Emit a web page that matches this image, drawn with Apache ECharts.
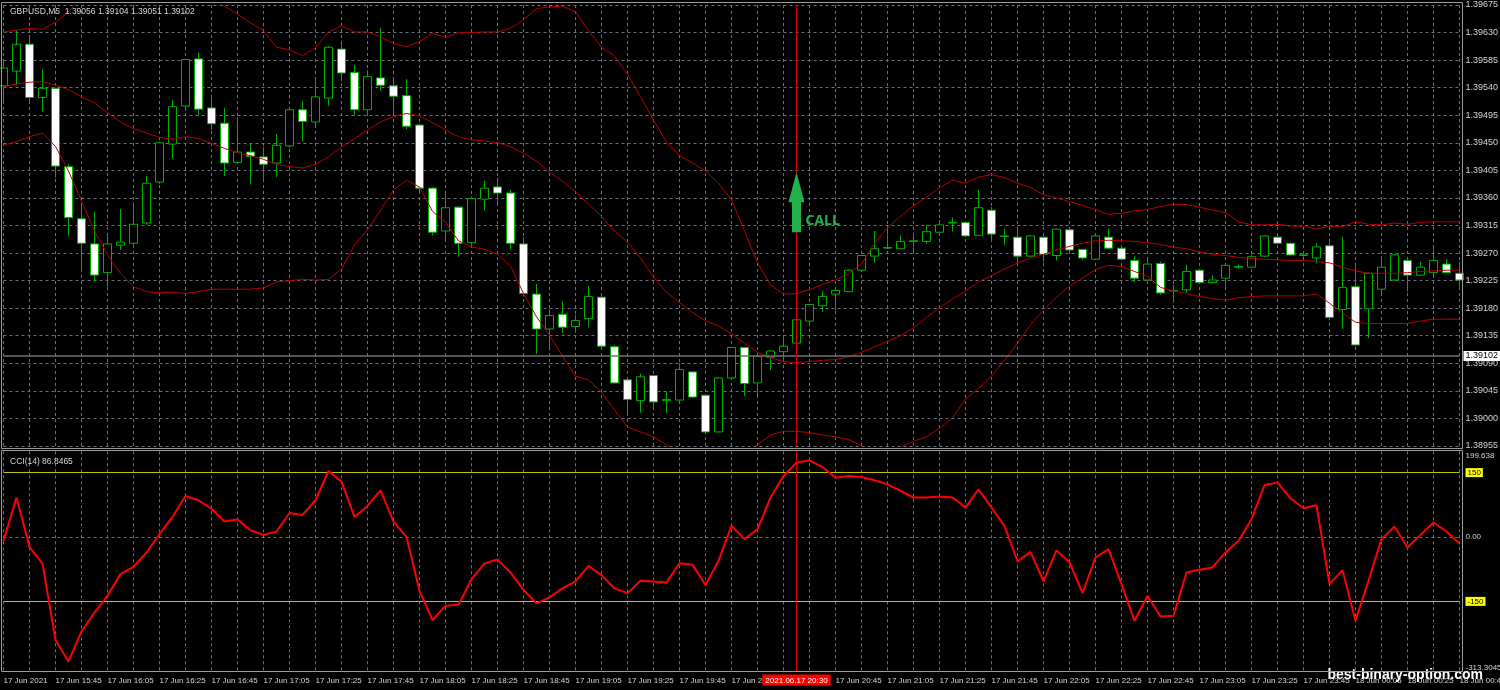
<!DOCTYPE html>
<html>
<head>
<meta charset="utf-8">
<script src="https://cdn.jsdelivr.net/npm/echarts@6/dist/echarts.min.js"></script>
<style>
html,body{margin:0;padding:0;background:#000;}
#chart{width:1500px;height:690px;}
</style>
</head>
<body>
<div id="chart"></div>
<script>
// ---------- DATA ----------
const categories = [
'2021.06.17 15:25','2021.06.17 15:30','2021.06.17 15:35','2021.06.17 15:40','2021.06.17 15:45','2021.06.17 15:50','2021.06.17 15:55',
'2021.06.17 16:00','2021.06.17 16:05','2021.06.17 16:10','2021.06.17 16:15','2021.06.17 16:20','2021.06.17 16:25','2021.06.17 16:30','2021.06.17 16:35','2021.06.17 16:40','2021.06.17 16:45','2021.06.17 16:50','2021.06.17 16:55',
'2021.06.17 17:00','2021.06.17 17:05','2021.06.17 17:10','2021.06.17 17:15','2021.06.17 17:20','2021.06.17 17:25','2021.06.17 17:30','2021.06.17 17:35','2021.06.17 17:40','2021.06.17 17:45','2021.06.17 17:50','2021.06.17 17:55',
'2021.06.17 18:00','2021.06.17 18:05','2021.06.17 18:10','2021.06.17 18:15','2021.06.17 18:20','2021.06.17 18:25','2021.06.17 18:30','2021.06.17 18:35','2021.06.17 18:40','2021.06.17 18:45','2021.06.17 18:50','2021.06.17 18:55',
'2021.06.17 19:00','2021.06.17 19:05','2021.06.17 19:10','2021.06.17 19:15','2021.06.17 19:20','2021.06.17 19:25','2021.06.17 19:30','2021.06.17 19:35','2021.06.17 19:40','2021.06.17 19:45','2021.06.17 19:50','2021.06.17 19:55',
'2021.06.17 20:00','2021.06.17 20:05','2021.06.17 20:10','2021.06.17 20:15','2021.06.17 20:20','2021.06.17 20:25','2021.06.17 20:30','2021.06.17 20:35','2021.06.17 20:40','2021.06.17 20:45','2021.06.17 20:50','2021.06.17 20:55',
'2021.06.17 21:00','2021.06.17 21:05','2021.06.17 21:10','2021.06.17 21:15','2021.06.17 21:20','2021.06.17 21:25','2021.06.17 21:30','2021.06.17 21:35','2021.06.17 21:40','2021.06.17 21:45','2021.06.17 21:50','2021.06.17 21:55',
'2021.06.17 22:00','2021.06.17 22:05','2021.06.17 22:10','2021.06.17 22:15','2021.06.17 22:20','2021.06.17 22:25','2021.06.17 22:30','2021.06.17 22:35','2021.06.17 22:40','2021.06.17 22:45','2021.06.17 22:50','2021.06.17 22:55',
'2021.06.17 23:00','2021.06.17 23:05','2021.06.17 23:10','2021.06.17 23:15','2021.06.17 23:20','2021.06.17 23:25','2021.06.17 23:30','2021.06.17 23:35','2021.06.17 23:40','2021.06.17 23:45','2021.06.17 23:50','2021.06.17 23:55',
'2021.06.18 00:00','2021.06.18 00:05','2021.06.18 00:10','2021.06.18 00:15','2021.06.18 00:20','2021.06.18 00:25','2021.06.18 00:30','2021.06.18 00:35','2021.06.18 00:40','2021.06.18 00:45'
];

const opens = [1.39543,1.39567,1.39611,1.39524,1.39539,1.39411,1.39326,1.39285,1.39238,1.39283,
1.39286,1.39319,1.39386,1.39448,1.39510,1.39587,1.39507,1.39482,1.39418,1.39435,
1.39427,1.39417,1.39445,1.39504,1.39484,1.39523,1.39603,1.39565,1.39504,1.39556,
1.39543,1.39527,1.39479,1.39376,1.39306,1.39345,1.39287,1.39358,1.39378,1.39368,
1.39285,1.39203,1.39146,1.39170,1.39150,1.39163,1.39198,1.39117,1.39063,1.39029,
1.39070,1.39029,1.39030,1.39076,1.39038,1.38978,1.39066,1.39116,1.39058,1.39100,
1.39109,1.39123,1.39159,1.39184,1.39203,1.39207,1.39242,1.39265,1.39278,1.39277,
1.39289,1.39289,1.39304,1.39319,1.39320,1.39299,1.39340,1.39297,1.39296,1.39265,
1.39296,1.39266,1.39308,1.39276,1.39260,1.39296,1.39278,1.39258,1.39226,1.39253,
1.39208,1.39210,1.39242,1.39222,1.39229,1.39247,1.39247,1.39265,1.39296,1.39286,
1.39266,1.39262,1.39282,1.39178,1.39215,1.39179,1.39211,1.39226,1.39258,1.39234,
1.39238,1.39252,1.39237];

const closes = [1.39572,1.39611,1.39524,1.39539,1.39412,1.39328,1.39286,1.39234,1.39285,1.39288,
1.39317,1.39384,1.39450,1.39509,1.39586,1.39505,1.39481,1.39417,1.39435,1.39428,
1.39415,1.39446,1.39504,1.39485,1.39525,1.39606,1.39564,1.39504,1.39558,1.39544,
1.39526,1.39477,1.39376,1.39304,1.39344,1.39286,1.39359,1.39376,1.39368,1.39286,
1.39204,1.39146,1.39168,1.39149,1.39160,1.39199,1.39118,1.39058,1.39031,1.39068,
1.39027,1.39031,1.39080,1.39035,1.38978,1.39066,1.39116,1.39057,1.39101,1.39110,
1.39118,1.39161,1.39186,1.39199,1.39209,1.39242,1.39266,1.39277,1.39279,1.39289,
1.39290,1.39305,1.39316,1.39320,1.39298,1.39344,1.39301,1.39298,1.39265,1.39298,
1.39268,1.39309,1.39275,1.39262,1.39298,1.39278,1.39260,1.39229,1.39252,1.39205,
1.39209,1.39240,1.39222,1.39226,1.39250,1.39248,1.39264,1.39298,1.39286,1.39267,
1.39267,1.39280,1.39165,1.39214,1.39120,1.39237,1.39247,1.39267,1.39234,1.39247,
1.39258,1.39238,1.39226];

const lows = [1.39515,1.39544,1.39517,1.39501,1.39393,1.39298,1.39241,1.39223,1.39215,1.39275,
1.39279,1.39316,1.39383,1.39424,1.39502,1.39495,1.39471,1.39396,1.39417,1.39382,
1.39388,1.39394,1.39442,1.39453,1.39476,1.39511,1.39550,1.39495,1.39498,1.39535,
1.39495,1.39472,1.39368,1.39299,1.39293,1.39264,1.39283,1.39339,1.39352,1.39276,
1.39199,1.39105,1.39111,1.39140,1.39140,1.39149,1.39112,1.39057,1.39004,1.39009,
1.39017,1.39009,1.39029,1.39033,1.38976,1.38977,1.39065,1.39037,1.39037,1.39079,
1.39095,1.39122,1.39150,1.39174,1.39177,1.39206,1.39240,1.39254,1.39277,1.39276,
1.39271,1.39285,1.39298,1.39305,1.39296,1.39298,1.39289,1.39283,1.39253,1.39264,
1.39256,1.39258,1.39274,1.39258,1.39259,1.39276,1.39258,1.39223,1.39225,1.39202,
1.39189,1.39205,1.39221,1.39221,1.39215,1.39244,1.39246,1.39263,1.39285,1.39266,
1.39264,1.39253,1.39163,1.39146,1.39119,1.39131,1.39205,1.39225,1.39207,1.39233,
1.39234,1.39237,1.39210];

const highs = [1.39582,1.39634,1.39623,1.39570,1.39540,1.39415,1.39349,1.39337,1.39298,1.39342,
1.39353,1.39396,1.39452,1.39520,1.39587,1.39597,1.39523,1.39507,1.39492,1.39448,
1.39443,1.39464,1.39506,1.39518,1.39556,1.39608,1.39611,1.39577,1.39569,1.39638,
1.39553,1.39554,1.39480,1.39378,1.39368,1.39346,1.39362,1.39388,1.39393,1.39373,
1.39296,1.39220,1.39178,1.39191,1.39169,1.39216,1.39199,1.39120,1.39064,1.39073,
1.39071,1.39044,1.39090,1.39077,1.39039,1.39067,1.39117,1.39117,1.39102,1.39111,
1.39131,1.39162,1.39187,1.39208,1.39210,1.39243,1.39267,1.39306,1.39314,1.39299,
1.39298,1.39316,1.39324,1.39328,1.39321,1.39373,1.39345,1.39310,1.39308,1.39299,
1.39297,1.39310,1.39309,1.39277,1.39299,1.39310,1.39280,1.39265,1.39259,1.39256,
1.39218,1.39251,1.39243,1.39234,1.39251,1.39251,1.39267,1.39299,1.39297,1.39287,
1.39270,1.39286,1.39290,1.39296,1.39251,1.39238,1.39265,1.39268,1.39259,1.39256,
1.39280,1.39260,1.39256];

const bbUpper = [1.39631,1.39634,1.39637,1.39635,1.39647,1.39664,1.39688,1.39710,1.39730,1.39745,
1.39752,1.39752,1.39745,1.39730,1.39712,1.39698,1.39688,1.39673,1.39660,1.39646,
1.39633,1.39606,1.39602,1.39592,1.39605,1.39631,1.39641,1.39631,1.39631,1.39623,
1.39612,1.39607,1.39615,1.39629,1.39622,1.39630,1.39630,1.39631,1.39631,1.39637,
1.39651,1.39669,1.39672,1.39673,1.39664,1.39633,1.39606,1.39592,1.39562,1.39525,
1.39487,1.39451,1.39429,1.39417,1.39404,1.39384,1.39357,1.39306,1.39254,1.39218,
1.39203,1.39204,1.39210,1.39219,1.39226,1.39236,1.39252,1.39286,1.39311,1.39330,
1.39347,1.39361,1.39377,1.39389,1.39384,1.39394,1.39398,1.39393,1.39384,1.39377,
1.39365,1.39360,1.39354,1.39348,1.39341,1.39333,1.39335,1.39339,1.39341,1.39346,
1.39350,1.39349,1.39345,1.39340,1.39336,1.39321,1.39316,1.39316,1.39317,1.39314,
1.39314,1.39309,1.39314,1.39313,1.39321,1.39317,1.39316,1.39319,1.39317,1.39320,
1.39321,1.39321,1.39321];

const bbMiddle = [1.39541,1.39546,1.39549,1.39550,1.39544,1.39537,1.39525,1.39515,1.39499,1.39484,
1.39473,1.39466,1.39459,1.39456,1.39460,1.39457,1.39449,1.39441,1.39434,1.39429,
1.39423,1.39415,1.39411,1.39409,1.39415,1.39427,1.39443,1.39457,1.39471,1.39484,
1.39493,1.39498,1.39494,1.39483,1.39471,1.39460,1.39455,1.39453,1.39450,1.39444,
1.39433,1.39420,1.39402,1.39387,1.39370,1.39350,1.39330,1.39306,1.39288,1.39262,
1.39231,1.39206,1.39189,1.39173,1.39159,1.39151,1.39138,1.39123,1.39108,1.39099,
1.39093,1.39091,1.39093,1.39095,1.39096,1.39101,1.39108,1.39117,1.39126,1.39135,
1.39148,1.39165,1.39181,1.39195,1.39208,1.39223,1.39233,1.39244,1.39254,1.39262,
1.39268,1.39275,1.39281,1.39286,1.39290,1.39291,1.39290,1.39289,1.39287,1.39284,
1.39280,1.39277,1.39272,1.39268,1.39266,1.39263,1.39261,1.39260,1.39259,1.39258,
1.39258,1.39256,1.39254,1.39247,1.39241,1.39237,1.39237,1.39237,1.39238,1.39240,
1.39241,1.39242,1.39242];

const bbLower = [1.39446,1.39452,1.39460,1.39466,1.39444,1.39404,1.39355,1.39306,1.39267,1.39237,
1.39215,1.39207,1.39205,1.39206,1.39204,1.39207,1.39211,1.39211,1.39211,1.39211,
1.39213,1.39223,1.39225,1.39227,1.39226,1.39227,1.39244,1.39283,1.39308,1.39340,
1.39373,1.39389,1.39378,1.39338,1.39320,1.39290,1.39280,1.39276,1.39268,1.39249,
1.39204,1.39166,1.39136,1.39102,1.39069,1.39063,1.39043,1.39014,1.38986,1.38978,
1.38970,1.38957,1.38948,1.38939,1.38932,1.38932,1.38937,1.38945,1.38957,1.38973,
1.38979,1.38979,1.38977,1.38973,1.38970,1.38966,1.38955,1.38945,1.38945,1.38953,
1.38963,1.38970,1.38984,1.39001,1.39032,1.39049,1.39069,1.39095,1.39123,1.39153,
1.39177,1.39198,1.39216,1.39229,1.39243,1.39250,1.39248,1.39240,1.39232,1.39214,
1.39208,1.39204,1.39199,1.39196,1.39193,1.39197,1.39199,1.39200,1.39200,1.39200,
1.39200,1.39203,1.39188,1.39172,1.39157,1.39155,1.39155,1.39155,1.39155,1.39159,
1.39162,1.39162,1.39162];

const cciValues = [-9,92,-23,-62,-240,-290,-220,-176,-137,-86.5,
-69.5,-36,6.5,46.7,95.6,85.6,66,36,40.7,15.8,
5,12.8,56,51.4,85.6,153.7,129,46.7,72.3,108.8,
36,0.2,-125.3,-193.5,-160,-158,-98,-61.6,-52.3,-82.6,
-123,-154.7,-140.7,-119.8,-103.5,-67.2,-88.8,-119.8,-130.7,-102,
-103.5,-105.8,-61,-64.9,-112,-55.6,25.8,-5,18,92,
142,173,178.6,163,138,142,139.8,132,122.8,107.2,
92,92,94.2,92,68.6,111,68.6,25.8,-57,-34.6,
-103.5,-30.7,-59.3,-130.7,-47.7,-28.4,-109.8,-195,-137,-185,
-183.5,-82.6,-76.5,-71,-36,-9,41.4,121,126.7,90.2,
67,74,-109.8,-77.2,-195,-102,-5,24.4,-24.4,5,
33.7,12.8,-15];

const priceTicks = ['1.38955','1.39000','1.39045','1.39090','1.39135','1.39180','1.39225','1.39270','1.39315',
'1.39360','1.39405','1.39450','1.39495','1.39540','1.39585','1.39630','1.39675'];
const cciTicks = ['-313.3045','-150','0.00','150','199.638'];
const cciLevels = [150, -150];
const bidPrice = 1.39102;
const signalTime = '2021.06.17 20:30';
const callArrowTop = 1.39402;
const callArrowBottom = 1.39304;
const chartTitle = 'GBPUSD,M5  1.39056 1.39104 1.39051 1.39102';
const cciTitle = 'CCI(14) 86.8465';
const watermark = 'best-binary-option.com';

// ---------- STYLE ----------
const FONT = 'Liberation Sans';
const GRID_COLOR = '#67707c';
const TEXT_COLOR = '#d4d4d4';
const BAND_COLOR = '#b80000';
const CANDLE_GREEN = '#00b000';
const SIGNAL_RED = '#d40000';
const LEVEL_COLOR = '#c4c400';
const CALL_GREEN = '#22b14c';

const signalIdx = categories.indexOf(signalTime);
const candleData = categories.map((c, i) => [opens[i], closes[i], lows[i], highs[i]]);
const priceMin = Number(priceTicks[0]);
const priceMax = Number(priceTicks[priceTicks.length - 1]);
const priceInterval = Number((Number(priceTicks[1]) - Number(priceTicks[0])).toFixed(5));
const cciTickValues = cciTicks.map(Number);
const cciMin = cciTickValues[0];
const cciMax = cciTickValues[cciTickValues.length - 1];

function timeLabel(value, index) {
  if (index === 0) return '17 Jun 2021';
  const parts = value.split(' ');
  const day = parts[0].slice(8, 10);
  return day + ' Jun ' + parts[1];
}

function cciLabel(v) {
  const k = cciTickValues.findIndex(t => Math.abs(t - v) < 1e-6);
  const txt = k >= 0 ? cciTicks[k] : String(v);
  return cciLevels.indexOf(Number(txt)) >= 0 ? '{lv|' + txt + '}' : txt;
}

const splitLineStyle = { show: true, interval: 1, lineStyle: { color: GRID_COLOR, type: [3, 3], width: 1 } };

function bandSeries(name, data) {
  return {
    name: name, type: 'line', xAxisIndex: 0, yAxisIndex: 0, data: data,
    showSymbol: false, symbol: 'none', silent: true, z: 3,
    lineStyle: { color: BAND_COLOR, width: 1 }
  };
}

const option = {
  backgroundColor: '#000',
  animation: false,
  title: [
    { text: chartTitle, left: 5, top: 2,
      textStyle: { color: TEXT_COLOR, fontSize: 8.5, fontWeight: 'normal', fontFamily: FONT } },
    { text: cciTitle, left: 5, top: 452,
      textStyle: { color: TEXT_COLOR, fontSize: 8.5, fontWeight: 'normal', fontFamily: FONT } },
    { text: watermark, right: 12, top: 663, z: 20,
      textStyle: { color: '#ffffff', fontSize: 14, fontWeight: 'bold', fontFamily: FONT } }
  ],
  grid: [
    { left: 3.5, width: 1456, top: 5, height: 441, outerBoundsMode: 'none', containLabel: false },
    { left: 3.5, width: 1456, top: 451.3, height: 220.2, outerBoundsMode: 'none', containLabel: false }
  ],
  xAxis: [
    { type: 'category', gridIndex: 0, data: categories, boundaryGap: false,
      axisLine: { show: false }, axisTick: { show: false }, axisLabel: { show: false },
      splitLine: splitLineStyle },
    { type: 'category', gridIndex: 1, data: categories, boundaryGap: false,
      axisLine: { show: false }, axisTick: { show: false },
      axisLabel: {
        show: true,
        interval: (i) => i % 4 === 0 && Math.abs(i - signalIdx) > 2,
        formatter: timeLabel,
        align: 'left', color: TEXT_COLOR, fontSize: 8, fontFamily: FONT, margin: 5
      },
      splitLine: splitLineStyle }
  ],
  yAxis: [
    { type: 'value', gridIndex: 0, position: 'right',
      min: priceMin, max: priceMax, interval: priceInterval,
      axisLine: { show: false }, axisTick: { show: false },
      axisLabel: { formatter: (v) => v.toFixed(5), color: TEXT_COLOR, fontSize: 9, fontFamily: FONT,
                   margin: 6, showMinLabel: true, showMaxLabel: true },
      splitLine: { show: true, lineStyle: { color: GRID_COLOR, type: [3, 3], width: 1 } } },
    { type: 'value', gridIndex: 1, position: 'right', min: cciMin, max: cciMax,
      axisLine: { show: false }, axisTick: { show: false },
      axisLabel: {
        show: true, customValues: cciTickValues, formatter: cciLabel,
        color: TEXT_COLOR, fontSize: 8, fontFamily: FONT, margin: 6,
        showMinLabel: true, showMaxLabel: true,
        verticalAlignMaxLabel: 'top', verticalAlignMinLabel: 'bottom',
        rich: { lv: { backgroundColor: '#ffff00', color: '#000', padding: [1, 2, 0, 2], fontSize: 8, fontFamily: FONT } }
      },
      splitLine: { show: false } }
  ],
  series: [
    {
      name: 'GBPUSD', type: 'candlestick', xAxisIndex: 0, yAxisIndex: 0,
      data: candleData, barWidth: 8, z: 2,
      itemStyle: { color: '#000000', color0: '#ffffff', borderColor: CANDLE_GREEN, borderColor0: CANDLE_GREEN, borderWidth: 1 },
      markLine: {
        silent: true, symbol: ['none', 'none'], z: 4, animation: false, precision: 5,
        data: [
          { yAxis: bidPrice, lineStyle: { color: '#6e7278', width: 1.5, type: 'solid' },
            label: { show: true, position: 'end', formatter: bidPrice.toFixed(5), distance: 4,
                     backgroundColor: '#ffffff', color: '#000', padding: [1, 2, 0, 2], fontSize: 9, fontFamily: FONT } },
          { xAxis: signalIdx, lineStyle: { color: SIGNAL_RED, width: 1, type: 'solid' }, label: { show: false } }
        ]
      },
      markPoint: {
        silent: true, z: 10, animation: false,
        data: [{
          coord: [signalIdx, (callArrowTop + callArrowBottom) / 2],
          symbol: 'path://M8,0 L16,30 L12.5,30 L12.5,60 L3.5,60 L3.5,30 L0,30 Z',
          symbolSize: [16, 60], symbolKeepAspect: false,
          itemStyle: { color: CALL_GREEN },
          label: { show: true, formatter: 'CALL', position: 'right', distance: 1, offset: [0, 19],
                   color: CALL_GREEN, fontSize: 14, fontWeight: 'bold', fontFamily: 'Open Sans' }
        }]
      }
    },
    bandSeries('BB upper', bbUpper),
    bandSeries('BB middle', bbMiddle),
    bandSeries('BB lower', bbLower),
    {
      name: 'CCI(14)', type: 'line', xAxisIndex: 1, yAxisIndex: 1, data: cciValues,
      showSymbol: false, symbol: 'none', silent: true, z: 3,
      lineStyle: { color: '#ff0000', width: 2 },
      markLine: {
        silent: true, symbol: ['none', 'none'], z: 2, animation: false, precision: 4,
        data: [
          { yAxis: cciLevels[0], lineStyle: { color: LEVEL_COLOR, width: 1, type: 'solid' }, label: { show: false } },
          { yAxis: cciLevels[1], lineStyle: { color: LEVEL_COLOR, width: 1, type: 'solid' }, label: { show: false } },
          { yAxis: 0, lineStyle: { color: GRID_COLOR, width: 1, type: [3, 3] }, label: { show: false } },
          { xAxis: signalIdx, lineStyle: { color: SIGNAL_RED, width: 1, type: 'solid' },
            label: { show: true, position: 'start', formatter: signalTime, distance: 3,
                     backgroundColor: '#ff0000', color: '#ffffff', padding: [2, 3, 1, 3], fontSize: 8, fontFamily: FONT } }
        ]
      }
    }
  ],
  graphic: [
    { type: 'rect', silent: true, z: 50, shape: { x: 1.5, y: 2.5, width: 1461, height: 446 },
      style: { fill: null, stroke: '#9c9c9c', lineWidth: 1 } },
    { type: 'rect', silent: true, z: 50, shape: { x: 1.5, y: 450.5, width: 1461, height: 221 },
      style: { fill: null, stroke: '#9c9c9c', lineWidth: 1 } }
  ]
};

const chart = echarts.init(document.getElementById('chart'), null, { renderer: 'canvas' });
chart.setOption(option);
</script>
</body>
</html>
